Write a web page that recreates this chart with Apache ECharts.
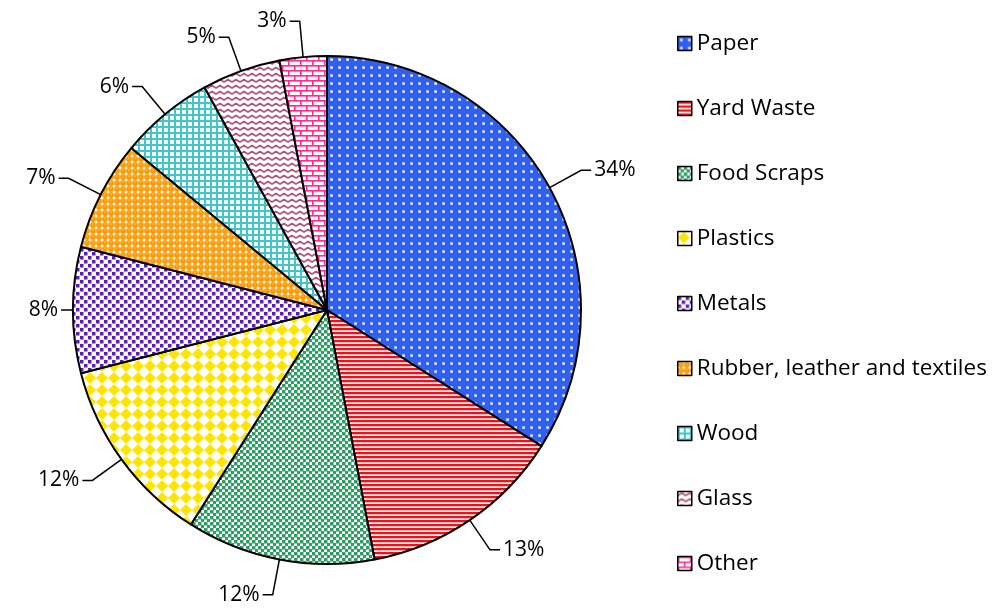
<!DOCTYPE html>
<html><head><meta charset="utf-8">
<script src="https://cdn.jsdelivr.net/npm/echarts@6/dist/echarts.min.js"></script>
<style>html,body{margin:0;padding:0;background:#fff}#c{width:996px;height:611px}</style>
</head><body><div id="c"></div>
<script>
const categories = ['Paper','Yard Waste','Food Scraps','Plastics','Metals','Rubber, leather and textiles','Wood','Glass','Other'];
const values = [34,13,12,12,8,7,6,5,3];

function pat(w,h,draw){const c=document.createElement('canvas');c.width=w;c.height=h;const x=c.getContext('2d');draw(x);return {image:c,repeat:'repeat'};}
const patterns = [
  pat(8,8,x=>{x.fillStyle='#2f5ff3';x.fillRect(0,0,8,8);x.fillStyle='#9fb5fb';x.fillRect(2,2,3,3);x.fillStyle='#ffffff';x.fillRect(3,3,1.5,1.5);}),
  pat(4,4,x=>{x.fillStyle='#ffffff';x.fillRect(0,0,4,4);x.fillStyle='#e8141c';x.fillRect(0,0,4,2.3);}),
  pat(6,6,x=>{x.fillStyle='#ffffff';x.fillRect(0,0,6,6);x.fillStyle='#2f9e64';x.fillRect(0,0,3,3);x.fillRect(3,3,3,3);x.fillStyle='#8fd0ae';x.fillRect(3,0,1,3);x.fillRect(0,3,3,1);}),
  pat(12,12,x=>{x.fillStyle='#ffffff';x.fillRect(0,0,12,12);x.fillStyle='#ffe600';x.beginPath();x.moveTo(6,0);x.lineTo(12,6);x.lineTo(6,12);x.lineTo(0,6);x.closePath();x.fill();}),
  pat(8,8,x=>{x.fillStyle='#ffffff';x.fillRect(0,0,8,8);x.fillStyle='#5a1fb0';x.fillRect(0,0,3.5,3.5);x.fillRect(4,4,3.5,3.5);}),
  pat(6,6,x=>{x.fillStyle='#ffffff';x.fillRect(0,0,6,6);x.fillStyle='#ff9900';x.beginPath();x.arc(3,3,2.9,0,Math.PI*2);x.fill();x.fillStyle='#ffc25a';x.fillRect(2,1.5,1.5,1.2);}),
  pat(6,6,x=>{x.fillStyle='#ffffff';x.fillRect(0,0,6,6);x.fillStyle='#40c6c6';x.fillRect(0,0,6,2);x.fillRect(0,0,2,6);}),
  pat(8,6,x=>{x.fillStyle='#ffffff';x.fillRect(0,0,8,6);x.strokeStyle='#b0557f';x.lineWidth=1.6;x.beginPath();x.moveTo(-1,4.5);x.lineTo(0,4);x.lineTo(4,1.5);x.lineTo(8,4);x.lineTo(9,4.5);x.stroke();}),
  pat(12,10,x=>{x.fillStyle='#ffffff';x.fillRect(0,0,12,10);x.fillStyle='#ff2a92';x.fillRect(0,0,12,1.6);x.fillRect(0,5,12,1.6);x.fillRect(0,0,1.6,5);x.fillRect(6,5,1.6,5);})
];

const chart = echarts.init(document.getElementById('c'), null, {renderer:'canvas'});
chart.setOption({
  animation:false,
  backgroundColor:'#ffffff',
  legend:{
    orient:'vertical', left:677, top:32, padding:0, itemWidth:14, itemHeight:14, itemGap:42,
    icon:'rect',
    itemStyle:{borderColor:'#000',borderWidth:1.5},
    textStyle:{fontFamily:'Open Sans',fontSize:22.5,color:'#000'},
    data:categories
  },
  series:[{
    type:'pie',
    center:[327,310], radius:254,
    startAngle:90, clockwise:true,
    avoidLabelOverlap:false,
    itemStyle:{borderColor:'#000',borderWidth:2},
    label:{show:true,position:'outside',formatter:'{c}%',fontFamily:'Open Sans',fontSize:21,color:'#000',distanceToLabelLine:3},
    labelLine:{show:true,length:36,length2:10,lineStyle:{color:'#000',width:1.5}},
    emphasis:{disabled:true},
    data:categories.map((n,i)=>{
      const d={name:n,value:values[i],itemStyle:{color:patterns[i]}};
      if(n==='Metals'){d.labelLine={length:6,length2:6};}
      return d;
    })
  }]
});
</script></body></html>
